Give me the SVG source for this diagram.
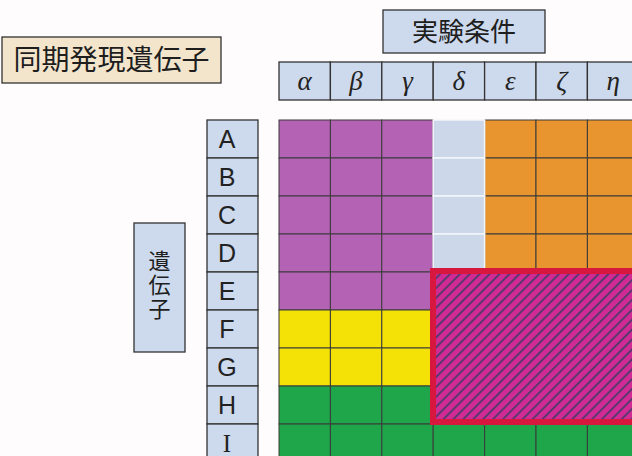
<svg xmlns="http://www.w3.org/2000/svg" width="632" height="456" viewBox="0 0 632 456">
<style>
.lbl{fill:#cdd9ec;stroke:#333;stroke-width:1.3}
.jp{font-family:"Noto Sans CJK JP","Noto Sans CJK SC",sans-serif;fill:#1e1e1e}
.lat{font-family:"Liberation Sans",Arial,sans-serif;font-size:25px;fill:#222;text-anchor:middle}
.gr{font-family:"Liberation Serif","Times New Roman",serif;font-style:italic;font-size:27px;fill:#222;text-anchor:middle}
.cell{stroke:#3a3a3a;stroke-width:1}
.pu{fill:#b463b4}.lb{fill:#ccd8ea}.or{fill:#e8942f}.ye{fill:#f4e206}.gn{fill:#1fa64a}
</style>
<defs>
<pattern id="hatch" patternUnits="userSpaceOnUse" width="7" height="7" patternTransform="rotate(-45)">
<rect width="7" height="7" fill="#d22a94"/>
<rect width="7" height="2" fill="#5a3a6e"/>
</pattern>
</defs>
<rect width="632" height="456" fill="#fefcfd"/>

<g id="title">
<rect x="2" y="37" width="219" height="46" fill="#f3e5cc" stroke="#333" stroke-width="1.3"/>
<text class="jp" x="111.5" y="70" font-size="28" text-anchor="middle">同期発現遺伝子</text>
</g>

<g id="conditions-header">
<rect class="lbl" x="383" y="10" width="162" height="43"/>
<text class="jp" x="464" y="41" font-size="26" text-anchor="middle">実験条件</text>
</g>

<g id="genes-header">
<rect class="lbl" x="134" y="223" width="51" height="129"/>
<text class="jp" x="159.5" y="250" font-size="22" letter-spacing="2" style="writing-mode:vertical-rl">遺伝子</text>
</g>

<g id="condition-labels">
<rect class="lbl" x="279" y="62" width="51.4" height="38"/>
<rect class="lbl" x="330.4" y="62" width="51.4" height="38"/>
<rect class="lbl" x="381.8" y="62" width="51.4" height="38"/>
<rect class="lbl" x="433.2" y="62" width="51.4" height="38"/>
<rect class="lbl" x="484.6" y="62" width="51.4" height="38"/>
<rect class="lbl" x="536" y="62" width="51.4" height="38"/>
<rect class="lbl" x="587.4" y="62" width="51.4" height="38"/>
<text class="gr" x="304.7" y="90">α</text>
<text class="gr" x="356.1" y="90">β</text>
<text class="gr" x="407.5" y="90">γ</text>
<text class="gr" x="458.9" y="90">δ</text>
<text class="gr" x="510.3" y="90">ε</text>
<text class="gr" x="561.7" y="90">ζ</text>
<text class="gr" x="613.1" y="90">η</text>
</g>

<g id="gene-labels">
<rect class="lbl" x="207" y="120" width="51" height="38"/>
<rect class="lbl" x="207" y="158" width="51" height="38"/>
<rect class="lbl" x="207" y="196" width="51" height="38"/>
<rect class="lbl" x="207" y="234" width="51" height="38"/>
<rect class="lbl" x="207" y="272" width="51" height="38"/>
<rect class="lbl" x="207" y="310" width="51" height="38"/>
<rect class="lbl" x="207" y="348" width="51" height="38"/>
<rect class="lbl" x="207" y="386" width="51" height="38"/>
<rect class="lbl" x="207" y="424" width="51" height="38"/>
<text class="lat" x="227" y="148">A</text>
<text class="lat" x="227" y="186">B</text>
<text class="lat" x="227" y="224">C</text>
<text class="lat" x="227" y="262">D</text>
<text class="lat" x="227" y="300">E</text>
<text class="lat" x="227" y="338">F</text>
<text class="lat" x="227" y="376">G</text>
<text class="lat" x="227" y="414">H</text>
<text class="lat" x="227" y="452" style="font-family:'Liberation Serif',serif">I</text>
</g>

<g id="matrix">
<g class="cell">
<rect class="pu" x="279" y="120" width="51.4" height="38"/><rect class="pu" x="330.4" y="120" width="51.4" height="38"/><rect class="pu" x="381.8" y="120" width="51.4" height="38"/>
<rect class="pu" x="279" y="158" width="51.4" height="38"/><rect class="pu" x="330.4" y="158" width="51.4" height="38"/><rect class="pu" x="381.8" y="158" width="51.4" height="38"/>
<rect class="pu" x="279" y="196" width="51.4" height="38"/><rect class="pu" x="330.4" y="196" width="51.4" height="38"/><rect class="pu" x="381.8" y="196" width="51.4" height="38"/>
<rect class="pu" x="279" y="234" width="51.4" height="38"/><rect class="pu" x="330.4" y="234" width="51.4" height="38"/><rect class="pu" x="381.8" y="234" width="51.4" height="38"/>
<rect class="pu" x="279" y="272" width="51.4" height="38"/><rect class="pu" x="330.4" y="272" width="51.4" height="38"/><rect class="pu" x="381.8" y="272" width="51.4" height="38"/>
<rect class="ye" x="279" y="310" width="51.4" height="38"/><rect class="ye" x="330.4" y="310" width="51.4" height="38"/><rect class="ye" x="381.8" y="310" width="51.4" height="38"/>
<rect class="ye" x="279" y="348" width="51.4" height="38"/><rect class="ye" x="330.4" y="348" width="51.4" height="38"/><rect class="ye" x="381.8" y="348" width="51.4" height="38"/>
<rect class="gn" x="279" y="386" width="51.4" height="38"/><rect class="gn" x="330.4" y="386" width="51.4" height="38"/><rect class="gn" x="381.8" y="386" width="51.4" height="38"/>
<rect class="gn" x="279" y="424" width="51.4" height="38"/><rect class="gn" x="330.4" y="424" width="51.4" height="38"/><rect class="gn" x="381.8" y="424" width="51.4" height="38"/>
<rect class="gn" x="433.2" y="424" width="51.4" height="38"/><rect class="gn" x="484.6" y="424" width="51.4" height="38"/><rect class="gn" x="536" y="424" width="51.4" height="38"/><rect class="gn" x="587.4" y="424" width="51.4" height="38"/>
<rect class="or" x="484.6" y="120" width="51.4" height="38"/><rect class="or" x="536" y="120" width="51.4" height="38"/><rect class="or" x="587.4" y="120" width="51.4" height="38"/>
<rect class="or" x="484.6" y="158" width="51.4" height="38"/><rect class="or" x="536" y="158" width="51.4" height="38"/><rect class="or" x="587.4" y="158" width="51.4" height="38"/>
<rect class="or" x="484.6" y="196" width="51.4" height="38"/><rect class="or" x="536" y="196" width="51.4" height="38"/><rect class="or" x="587.4" y="196" width="51.4" height="38"/>
<rect class="or" x="484.6" y="234" width="51.4" height="38"/><rect class="or" x="536" y="234" width="51.4" height="38"/><rect class="or" x="587.4" y="234" width="51.4" height="38"/>
</g>
<g fill="#ccd8ea" stroke="#f4f6fa" stroke-width="1.5">
<rect x="433.2" y="120" width="51.4" height="38"/>
<rect x="433.2" y="158" width="51.4" height="38"/>
<rect x="433.2" y="196" width="51.4" height="38"/>
<rect x="433.2" y="234" width="51.4" height="38"/>
</g>
</g>

<g id="cluster">
<rect x="433" y="271" width="210" height="151" fill="url(#hatch)" stroke="#d8173f" stroke-width="6"/>
</g>
</svg>
